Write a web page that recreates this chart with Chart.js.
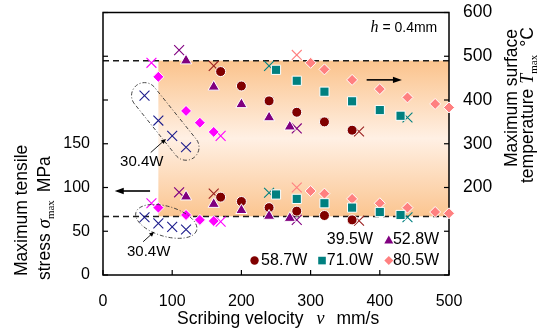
<!DOCTYPE html>
<html><head><meta charset="utf-8">
<script src="https://cdn.jsdelivr.net/npm/chart.js@4/dist/chart.umd.min.js"></script>
<style>html,body{margin:0;padding:0;background:#fff;}#wrap{width:539px;height:331px;position:relative;}</style>
</head><body><div id="wrap"><canvas id="c" width="539" height="331"></canvas></div>
<script>
// ---------- data ----------
const xTicks = [0, 100, 200, 300, 400, 500];
const stressTicksShown = [0, 50, 100, 150];
const tempTicksShown = [200, 300, 400, 500, 600];

const powers = ['30.4W', '39.5W', '52.8W', '58.7W', '71.0W', '80.5W'];

// 30.4W (only out-of-window points, crosses)
const vel30x = [60, 80, 100, 120];
const stress30x = [66, 59, 55, 52];
const temp30x = [410, 353, 318, 292];

// 39.5W
const vel39 = [80, 120, 140, 160];
const stress39 = [77, 68.6, 63, 61.7];
const temp39 = [453, 375, 348, 327];
const vel39x = [70, 170];
const stress39x = [82, 61];
const temp39x = [485, 318];

// 52.8W
const vel52 = [120, 160, 200, 240, 270];
const stress52 = [89.5, 81, 74, 67.4, 65];
const temp52 = [490, 430, 390, 360, 339];
const vel52x = [110, 280];
const stress52x = [94.5, 63];
const temp52x = [514, 335];

// 58.7W
const vel58 = [170, 200, 240, 280, 320, 360];
const stress58 = [89, 84, 77, 73, 68, 63];
const temp58 = [465, 432, 398, 372, 350, 331];
const vel58x = [160, 370];
const stress58x = [93, 62];
const temp58x = [478, 328];

// 71.0W
const vel71 = [250, 280, 320, 360, 400, 430];
const stress71 = [92, 87, 82, 77, 72, 68.6];
const temp71 = [469, 444, 419, 397, 377, 364];
const vel71x = [240, 440];
const stress71x = [94, 66];
const temp71x = [478, 360];

// 80.5W
const vel80 = [300, 320, 360, 400, 440, 480, 500];
const stress80 = [96, 93, 87, 82, 77, 72, 70.5];
const temp80 = [485, 470, 446, 425, 406, 391, 383];
const vel80x = [280];
const stress80x = [100];
const temp80x = [503];

// process window limits
const stressLimit = 67;     // MPa (left axis)
const tempLimit = 490;      // degC (right axis)
const windowVelMin = 80;    // mm/s

// ---------- styling ----------
const SANS = "'Liberation Sans', Arial, sans-serif";
const SERIF = "'Liberation Serif', 'Times New Roman', serif";
const C = {
  navy: '#1c1c8c', magenta: '#ff00ff', purple: '#800080',
  maroon: '#800000', teal: '#008080', pink: '#ff8080', xmaroon: '#9a2020'
};

function pts(vs, ys) { return vs.map((v, i) => ({ x: v, y: ys[i] })); }
function filled(label, vs, ys, axis, style, color, r) {
  return { label, data: pts(vs, ys), yAxisID: axis, pointStyle: style, pointRadius: r,
    backgroundColor: color, borderColor: '#ffffff', pointBorderWidth: 1, showLine: false, clip: false };
}
function cross(label, vs, ys, axis, color) {
  return { label, data: pts(vs, ys), yAxisID: axis, pointStyle: 'crossRot', pointRadius: 7,
    backgroundColor: color, borderColor: color, pointBorderWidth: 1.1, showLine: false, clip: false };
}

const datasets = [
  cross('30.4W σ', vel30x, stress30x, 'y', C.navy),
  cross('30.4W T', vel30x, temp30x, 'y2', C.navy),
  filled('39.5W σ', vel39, stress39, 'y', 'rectRot', C.magenta, 5.5),
  filled('39.5W T', vel39, temp39, 'y2', 'rectRot', C.magenta, 5.5),
  cross('39.5W σx', vel39x, stress39x, 'y', C.magenta),
  cross('39.5W Tx', vel39x, temp39x, 'y2', C.magenta),
  filled('52.8W σ', vel52, stress52, 'y', 'triangle', C.purple, 6.5),
  filled('52.8W T', vel52, temp52, 'y2', 'triangle', C.purple, 6.5),
  cross('52.8W σx', vel52x, stress52x, 'y', C.purple),
  cross('52.8W Tx', vel52x, temp52x, 'y2', C.purple),
  filled('58.7W σ', vel58, stress58, 'y', 'circle', C.maroon, 5),
  filled('58.7W T', vel58, temp58, 'y2', 'circle', C.maroon, 5),
  cross('58.7W σx', vel58x, stress58x, 'y', C.xmaroon),
  cross('58.7W Tx', vel58x, temp58x, 'y2', C.xmaroon),
  filled('71.0W σ', vel71, stress71, 'y', 'rect', C.teal, 6.5),
  filled('71.0W T', vel71, temp71, 'y2', 'rect', C.teal, 6.5),
  cross('71.0W σx', vel71x, stress71x, 'y', C.teal),
  cross('71.0W Tx', vel71x, temp71x, 'y2', C.teal),
  filled('80.5W σ', vel80, stress80, 'y', 'rectRot', C.pink, 5.5),
  filled('80.5W T', vel80, temp80, 'y2', 'rectRot', C.pink, 5.5),
  cross('80.5W σx', vel80x, stress80x, 'y', C.pink),
  cross('80.5W Tx', vel80x, temp80x, 'y2', C.pink)
];

function drawRich(ctx, parts, x, y, rot) {
  ctx.save();
  ctx.translate(x, y);
  if (rot) ctx.rotate(rot);
  ctx.textBaseline = 'alphabetic';
  ctx.textAlign = 'left';
  ctx.fillStyle = '#000';
  let cx = 0;
  parts.forEach(p => {
    ctx.font = p.font;
    ctx.fillText(p.t, cx, p.dy || 0);
    cx += ctx.measureText(p.t).width + (p.gap || 0);
  });
  ctx.restore();
}
function richWidth(ctx, parts) {
  let w = 0;
  parts.forEach(p => { ctx.font = p.font; w += ctx.measureText(p.t).width + (p.gap || 0); });
  return w;
}
function arrow(ctx, x1, y1, x2, y2, head, hw, lw) {
  const ang = Math.atan2(y2 - y1, x2 - x1);
  ctx.save();
  ctx.strokeStyle = '#000'; ctx.fillStyle = '#000'; ctx.lineWidth = lw; ctx.setLineDash([]);
  ctx.beginPath();
  ctx.moveTo(x1, y1);
  ctx.lineTo(x2 - Math.cos(ang) * head * 0.8, y2 - Math.sin(ang) * head * 0.8);
  ctx.stroke();
  ctx.translate(x2, y2); ctx.rotate(ang);
  ctx.beginPath(); ctx.moveTo(0, 0); ctx.lineTo(-head, -hw); ctx.lineTo(-head, hw); ctx.closePath(); ctx.fill();
  ctx.restore();
}

const deco = {
  id: 'deco',
  beforeDatasetsDraw(chart) {
    const { ctx, chartArea: a, scales } = chart;
    const x = scales.x, y = scales.y, y2 = scales.y2;
    const xL = x.getPixelForValue(windowVelMin), xR = a.right;
    const yT = y2.getPixelForValue(tempLimit), yB = y.getPixelForValue(stressLimit);
    ctx.save();
    const g = ctx.createLinearGradient(0, yT, 0, yB);
    g.addColorStop(0, '#fbc38c');
    g.addColorStop(0.5, '#fff0e4');
    g.addColorStop(1, '#fbc590');
    ctx.fillStyle = g;
    ctx.fillRect(xL, yT, xR - xL, yB - yT);
    // dashed limit lines
    ctx.strokeStyle = '#1a1a1a'; ctx.lineWidth = 1.5; ctx.setLineDash([6, 4]);
    [yT, yB].forEach(py => { ctx.beginPath(); ctx.moveTo(a.left, py); ctx.lineTo(a.right, py); ctx.stroke(); });
    ctx.setLineDash([]);
    // frame
    ctx.strokeStyle = '#000'; ctx.lineWidth = 1.5;
    ctx.strokeRect(a.left, a.top, a.right - a.left, a.bottom - a.top);
    // inward ticks
    ctx.lineWidth = 1.2;
    x.ticks.forEach(t => { const p = x.getPixelForValue(t.value); ctx.beginPath(); ctx.moveTo(p, a.bottom); ctx.lineTo(p, a.bottom - 5); ctx.stroke(); });
    y.ticks.forEach(t => { const p = y.getPixelForValue(t.value); ctx.beginPath(); ctx.moveTo(a.left, p); ctx.lineTo(a.left + 5, p); ctx.stroke(); });
    y2.ticks.forEach(t => { const p = y2.getPixelForValue(t.value); ctx.beginPath(); ctx.moveTo(a.right, p); ctx.lineTo(a.right - 5, p); ctx.stroke(); });
    ctx.restore();
  },
  afterDraw(chart) {
    const { ctx, chartArea: a, scales } = chart;
    const x = scales.x, y = scales.y, y2 = scales.y2;
    const px = v => x.getPixelForValue(v), py = s => y.getPixelForValue(s), pt = t => y2.getPixelForValue(t);
    ctx.save();
    // dash-dot outline around 30.4W temperature crosses (capsule)
    ctx.strokeStyle = '#333'; ctx.lineWidth = 0.9; ctx.setLineDash([4, 2, 1, 2]);
    {
      const x1 = px(vel30x[0]), y1 = pt(temp30x[0]);
      const x2 = px(vel30x[vel30x.length - 1]), y2p = pt(temp30x[temp30x.length - 1]);
      const ang = Math.atan2(y2p - y1, x2 - x1), r = 13;
      ctx.beginPath();
      ctx.arc(x1, y1, r, ang + Math.PI / 2, ang + 3 * Math.PI / 2);
      ctx.arc(x2, y2p, r, ang - Math.PI / 2, ang + Math.PI / 2);
      ctx.closePath(); ctx.stroke();
    }
    // dash-dot ellipse around 30.4W stress crosses
    {
      const x1 = px(vel30x[0]), y1 = py(stress30x[0]);
      const x2 = px(vel30x[vel30x.length - 1]), y2p = py(stress30x[stress30x.length - 1]);
      const ang = Math.atan2(y2p - y1, x2 - x1);
      const half = Math.hypot(x2 - x1, y2p - y1) / 2;
      ctx.beginPath();
      ctx.ellipse((x1 + x2) / 2 + 1, (y1 + y2p) / 2 - 2, half + 10, 15, ang, 0, Math.PI * 2);
      ctx.stroke();
    }
    ctx.setLineDash([]);
    // leader arrows for "30.4W"
    arrow(ctx, px(69), py(140), px(91), py(155.5), 5, 2.2, 0.9);
    arrow(ctx, px(58), py(38), px(74), py(49.5), 5, 2.2, 0.9);
    // direction arrows
    arrow(ctx, px(381), pt(446), px(432), pt(446), 9, 3.2, 1.6);
    arrow(ctx, px(68), py(96), px(17), py(96), 9, 3.2, 1.6);
    // text labels
    ctx.fillStyle = '#000'; ctx.textBaseline = 'middle'; ctx.textAlign = 'center';
    ctx.font = '15px ' + SANS;
    ctx.fillText('30.4W', px(56), py(129));
    ctx.fillText('30.4W', px(66), py(26));
    // h = 0.4mm
    const hp = [{ t: 'h', font: 'italic 16px ' + SERIF }, { t: ' = 0.4mm', font: '14px ' + SANS }];
    const hw = richWidth(ctx, hp);
    drawRich(ctx, hp, px(483) - hw, pt(556));
    // legend
    ctx.textAlign = 'left'; ctx.textBaseline = 'middle'; ctx.font = '16px ' + SANS; ctx.fillStyle = '#000';
    const r1 = py(40), r2 = py(16.5);
    const c1m = px(219), c1t = px(228.5), c2m = px(316.5), c2t = px(323.5), c3m = px(413), c3t = px(419);
    ctx.fillText(powers[1], c2t, r1);
    ctx.fillText(powers[2], c3t, r1);
    ctx.fillText(powers[3], c1t, r2);
    ctx.fillText(powers[4], c2t, r2);
    ctx.fillText(powers[5], c3t, r2);
    // legend markers
    ctx.fillStyle = C.purple;
    ctx.beginPath(); ctx.moveTo(c3m, r1 - 4.5); ctx.lineTo(c3m + 4.5, r1 + 3.5); ctx.lineTo(c3m - 4.5, r1 + 3.5); ctx.closePath(); ctx.fill();
    ctx.fillStyle = C.maroon;
    ctx.beginPath(); ctx.arc(c1m, r2, 4.2, 0, Math.PI * 2); ctx.fill();
    ctx.fillStyle = C.teal;
    ctx.fillRect(c2m - 3.8, r2 - 3.8, 7.6, 7.6);
    ctx.fillStyle = C.pink;
    ctx.beginPath(); ctx.moveTo(c3m, r2 - 4.5); ctx.lineTo(c3m + 4.5, r2); ctx.lineTo(c3m, r2 + 4.5); ctx.lineTo(c3m - 4.5, r2); ctx.closePath(); ctx.fill();
    ctx.restore();

    // axis titles
    const T = '17.5px ' + SANS;
    drawRich(ctx, [{ t: 'Scribing velocity', font: T, gap: 13 }, { t: 'v', font: 'italic 18px ' + SERIF, gap: 12 }, { t: 'mm/s', font: T }], 177, 324, 0);
    drawRich(ctx, [{ t: 'Maximum tensile', font: T }], 26.5, 276, -Math.PI / 2);
    drawRich(ctx, [{ t: 'stress ', font: T }, { t: 'σ', font: 'italic 19px ' + SERIF },
      { t: 'max', font: '11px ' + SERIF, dy: 4, gap: 8 }, { t: 'MPa', font: T }], 49.5, 280, -Math.PI / 2);
    drawRich(ctx, [{ t: 'Maximum surface', font: T }], 517, 167, -Math.PI / 2);
    drawRich(ctx, [{ t: 'temperature ', font: T }, { t: 'T', font: 'italic 18px ' + SERIF },
      { t: 'max', font: '11px ' + SERIF, dy: 4, gap: 8 }, { t: '°C', font: T }], 533, 183, -Math.PI / 2);
  }
};

function fixV(width) {
  return s => { s.width = width; s.paddingTop = 0; s.paddingBottom = 0; };
}

new Chart(document.getElementById('c'), {
  type: 'scatter',
  data: { datasets },
  options: {
    responsive: false, animation: false, devicePixelRatio: 1,
    layout: { padding: { top: 12.5, left: 0, right: 0, bottom: 0 } },
    plugins: { legend: { display: false }, tooltip: { enabled: false } },
    scales: {
      x: {
        type: 'linear', min: xTicks[0], max: xTicks[xTicks.length - 1],
        afterBuildTicks: s => { s.ticks = xTicks.map(v => ({ value: v })); },
        ticks: { color: '#000', font: { family: SANS, size: 16 }, padding: 17 },
        grid: { display: false, drawTicks: false }, border: { display: false },
        afterFit: s => { s.height = 56; s.paddingLeft = 0; s.paddingRight = 0; }
      },
      y: {
        position: 'left', min: 0, max: 300,
        ticks: { stepSize: 50, color: '#000', font: { family: SANS, size: 16 }, padding: 13,
          callback: v => stressTicksShown.includes(v) ? String(v) : '' },
        grid: { display: false, drawTicks: false }, border: { display: false },
        afterFit: fixV(103)
      },
      y2: {
        position: 'right', min: 0, max: 600,
        ticks: { stepSize: 100, color: '#000', font: { family: SANS, size: 17.5 }, padding: 14,
          callback: v => tempTicksShown.includes(v) ? String(v) : '' },
        grid: { display: false, drawTicks: false }, border: { display: false },
        afterFit: fixV(90)
      }
    }
  },
  plugins: [deco]
});
</script>
</body></html>
